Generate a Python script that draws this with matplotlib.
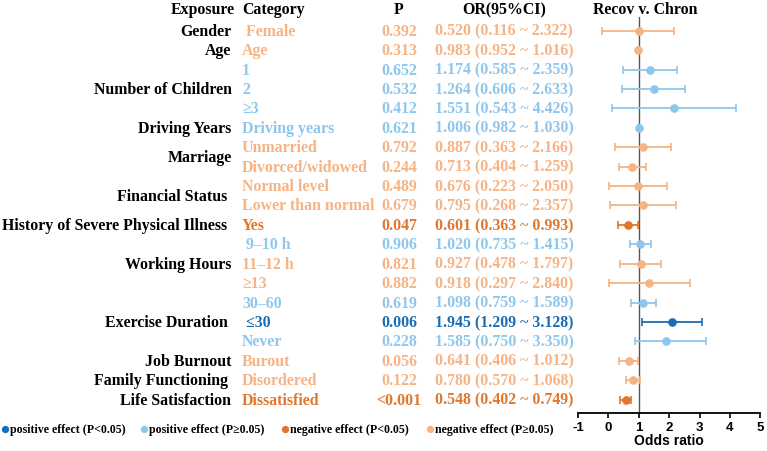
import matplotlib
matplotlib.use("Agg")
import matplotlib.pyplot as plt
from matplotlib.lines import Line2D
from matplotlib.transforms import blended_transform_factory

# ---------------- data ----------------
exposures = ["Gender", "Age", "Number of Children", "Driving Years", "Marriage",
             "Financial Status ", "History of Severe Physical Illness ", "Working Hours",
             "Exercise Duration ", "Job Burnout", "Family Functioning ", "Life Satisfaction"]
exposure_rows = [0, 1, 3, 5, 6.5, 8.5, 10, 12, 15, 17, 18, 19]

categories = [" Female", "Age", "1", "2", "\u22653", "Driving years", "Unmarried",
              "Divorced/widowed", "Normal level", "Lower than normal", "Yes", " 9\u201310 h",
              "11\u201312 h", "\u226513", "30\u201360", " \u226430", "Never", "Burout",
              "Disordered", "Dissatisfied"]
p_values = ["0.392", "0.313", "0.652", "0.532", "0.412", "0.621", "0.792", "0.244", "0.489",
            "0.679", "0.047", "0.906", "0.821", "0.882", "0.619", "0.006", "0.228", "0.056",
            "0.122", "<0.001"]
or_text = ["0.520 (0.116 ~ 2.322)", "0.983 (0.952 ~ 1.016)", "1.174 (0.585 ~ 2.359)",
           "1.264 (0.606 ~ 2.633)", "1.551 (0.543 ~ 4.426)", "1.006 (0.982 ~ 1.030)",
           "0.887 (0.363 ~ 2.166)", "0.713 (0.404 ~ 1.259)", "0.676 (0.223 ~ 2.050)",
           "0.795 (0.268 ~ 2.357)", "0.601 (0.363 ~ 0.993)", "1.020 (0.735 ~ 1.415)",
           "0.927 (0.478 ~ 1.797)", "0.918 (0.297 ~ 2.840)", "1.098 (0.759 ~ 1.589)",
           "1.945 (1.209 ~ 3.128)", "1.585 (0.750 ~ 3.350)", "0.641 (0.406 ~ 1.012)",
           "0.780 (0.570 ~ 1.068)", "0.548 (0.402 ~ 0.749)"]
effect = ["neg_ns", "neg_ns", "pos_ns", "pos_ns", "pos_ns", "pos_ns", "neg_ns", "neg_ns",
          "neg_ns", "neg_ns", "neg_sig", "pos_ns", "neg_ns", "neg_ns", "pos_ns", "pos_sig",
          "pos_ns", "neg_ns", "neg_ns", "neg_sig"]
# plotted positions as drawn in the forest plot
plot_point = [1.00, 0.99, 1.38, 1.50, 2.16, 1.01, 1.14, 0.79, 0.96, 1.14, 0.64, 1.05, 1.06,
              1.35, 1.14, 2.09, 1.89, 0.67, 0.81, 0.57]
plot_low = [-0.20, 0.96, 0.47, 0.46, 0.13, 0.99, 0.22, 0.35, 0.01, 0.05, 0.33, 0.71, 0.39,
            0.02, 0.73, 1.12, 0.87, 0.35, 0.59, 0.39]
plot_high = [2.17, 1.02, 2.27, 2.53, 4.20, 1.03, 2.06, 1.23, 1.93, 2.22, 0.96, 1.39, 1.74,
             2.68, 1.56, 3.07, 3.22, 0.975, 1.05, 0.73]
x_ticks = [-1, 0, 1, 2, 3, 4, 5]

legend_labels = ["positive effect (P<0.05)", "positive effect (P\u22650.05)",
                 "negative effect (P<0.05)", "negative effect (P\u22650.05)"]
legend_keys = ["pos_sig", "pos_ns", "neg_sig", "neg_ns"]

colors = {"pos_sig": "#1a6cb4", "pos_ns": "#8ec6ec",
          "neg_sig": "#e0772c", "neg_ns": "#f6b383"}

# ---------------- layout ----------------
W, H = 767, 452
fig = plt.figure(figsize=(W / 100, H / 100), dpi=100)
serif = ["Liberation Serif", "DejaVu Serif"]
sans = ["Liberation Sans", "DejaVu Sans"]
FS = 11.4

ax_left, ax_right = 578 / W, 760.3 / W
ax_top, ax_bottom = 18 / H, 414.3 / H
ax = fig.add_axes([ax_left, 1 - ax_bottom, ax_right - ax_left, ax_bottom - ax_top])
ax.set_xlim(-1, 5)
ax.set_ylim(19.70, -0.705)

n = len(categories)
rows = list(range(n))
for i in rows:
    c = colors[effect[i]]
    ax.errorbar(plot_point[i], i,
                xerr=[[plot_point[i] - plot_low[i]], [plot_high[i] - plot_point[i]]],
                fmt="o", color=c, ecolor=c, elinewidth=1.3, capsize=3.0, capthick=1.2,
                markersize=5.2, zorder=3)

ax.axvline(1, color="#555555", lw=1.0, zorder=2)
for s in ["top", "right", "left"]:
    ax.spines[s].set_visible(False)
ax.spines["bottom"].set_linewidth(1.3)
ax.set_yticks([])
ax.set_xticks(x_ticks)
ax.set_xticklabels([str(t) for t in x_ticks], fontfamily=sans, fontweight="bold", fontsize=9.5)
ax.tick_params(axis="x", direction="out", length=3.5, width=1.2, pad=2)
ax.set_xlabel("Odds ratio", fontfamily=sans, fontweight="bold", fontsize=10, labelpad=0)

trans = blended_transform_factory(fig.transFigure, ax.transData)
hdr_y = -1.12

def fx(px):
    return px / W

# headers
fig.text(fx(235), hdr_y, "Exposure", transform=trans, ha="right", va="center",
         family=serif, weight="bold", fontsize=FS, color="black")
fig.text(fx(242), hdr_y, "Category", transform=trans, ha="left", va="center",
         family=serif, weight="bold", fontsize=FS, color="black")
fig.text(fx(399), hdr_y, "P", transform=trans, ha="center", va="center",
         family=serif, weight="bold", fontsize=FS, color="black")
fig.text(fx(504), hdr_y, "OR(95%CI)", transform=trans, ha="center", va="center",
         family=serif, weight="bold", fontsize=FS, color="black")
fig.text(fx(645.5), hdr_y, "Recov v. Chron", transform=trans, ha="center", va="center",
         family=serif, weight="bold", fontsize=FS, color="black")

for lab, r in zip(exposures, exposure_rows):
    fig.text(fx(231.5), r, lab, transform=trans, ha="right", va="center",
             family=serif, weight="bold", fontsize=FS, color="black")

for i in rows:
    c = colors[effect[i]]
    fig.text(fx(242), i, categories[i], transform=trans, ha="left", va="center",
             family=serif, weight="bold", fontsize=FS, color=c)
    fig.text(fx(399), i, p_values[i], transform=trans, ha="center", va="center",
             family=serif, weight="bold", fontsize=FS, color=c)
    fig.text(fx(504), i, or_text[i], transform=trans, ha="center", va="center",
             family=serif, weight="bold", fontsize=FS, color=c)

# legend
leg_y = 1 - 430 / H
dot_x = [5, 143.5, 285, 429.5]
for k, lab, dx in zip(legend_keys, legend_labels, dot_x):
    fig.add_artist(Line2D([fx(dx)], [leg_y], transform=fig.transFigure, marker="o",
                          markersize=4.2, color=colors[k], linestyle="none"))
    fig.text(fx(dx + 5.5), leg_y, lab, ha="left", va="center", family=serif,
             weight="bold", fontsize=8.6, color="black")

fig.savefig("out.png", dpi=100)
